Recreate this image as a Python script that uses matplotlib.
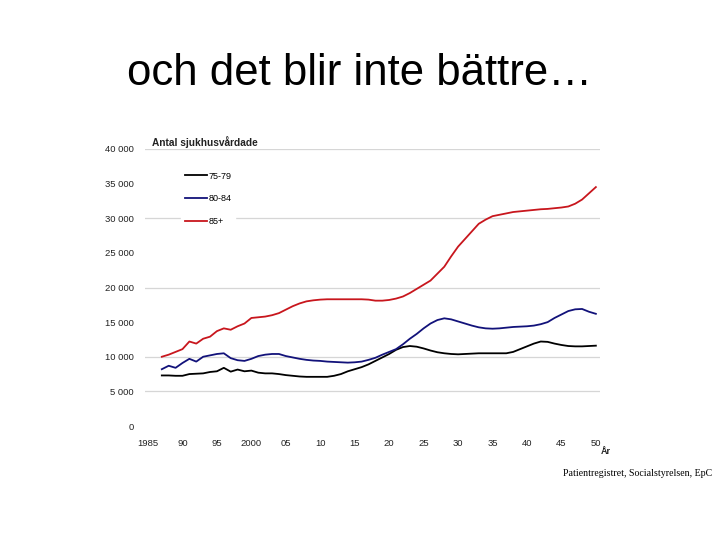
import numpy as np
import matplotlib.pyplot as plt

years = np.arange(1987, 2051)

age_75_79 = [7300, 7300, 7250, 7250, 7500, 7550, 7600, 7800, 7900, 8400,
             7850, 8150, 7900, 8000, 7700, 7600, 7600, 7500, 7350, 7250,
             7150, 7100, 7100, 7100, 7100, 7250, 7500, 7900, 8200, 8500,
             8900, 9400, 9900, 10400, 11000, 11400, 11550, 11450, 11200, 10900,
             10650, 10500, 10400, 10350, 10400, 10450, 10500, 10500, 10500, 10500,
             10500, 10700, 11100, 11500, 11900, 12200, 12150, 11900, 11700, 11550,
             11500, 11500, 11550, 11600]

age_80_84 = [8200, 8700, 8400, 9100, 9700, 9300, 10000, 10200, 10400, 10500,
             9800, 9500, 9400, 9700, 10100, 10300, 10400, 10400, 10100, 9900,
             9700, 9550, 9450, 9400, 9300, 9250, 9200, 9150, 9200, 9300,
             9550, 9850, 10300, 10700, 11100, 11800, 12600, 13300, 14100, 14800,
             15300, 15550, 15400, 15100, 14800, 14500, 14250, 14100, 14050, 14100,
             14200, 14300, 14350, 14400, 14500, 14700, 15000, 15600, 16100, 16600,
             16850, 16900, 16500, 16200]

age_85 = [10000, 10300, 10700, 11100, 12200, 11900, 12600, 12900, 13700, 14100,
          13900, 14400, 14800, 15600, 15700, 15800, 16000, 16300, 16800, 17300,
          17700, 18000, 18150, 18250, 18300, 18300, 18300, 18300, 18300, 18300,
          18250, 18100, 18100, 18200, 18400, 18700, 19200, 19800, 20400, 21000,
          22000, 23000, 24500, 25900, 27000, 28100, 29200, 29800, 30300, 30500,
          30700, 30900, 31000, 31100, 31200, 31300, 31350, 31450, 31550, 31700,
          32100, 32700, 33600, 34500]

xticks = list(range(1985, 2051, 5))
xlabels = ['1985', '90', '95', '2000', '05', '10', '15', '20', '25',
           '30', '35', '40', '45', '50']
yticks = list(range(0, 40001, 5000))
ylabels = ['0', '5 000', '10 000', '15 000', '20 000', '25 000',
           '30 000', '35 000', '40 000']
grid_vals = [5000, 10000, 20000, 30000, 40000]

plt.rcParams['font.family'] = ['Liberation Sans', 'DejaVu Sans']

fig = plt.figure(figsize=(7.2, 5.4), dpi=100)
ax = fig.add_axes([145 / 720, 1 - 426 / 540, 455 / 720, 277 / 540])

for g in grid_vals:
    ax.axhline(g, color='#d6d6d6', lw=0.9, zorder=0)

ax.plot(years, age_75_79, color='#000000', lw=1.3, label='75-79')
ax.plot(years, age_80_84, color='#12127a', lw=1.3, label='80-84')
ax.plot(years, age_85, color='#c8161d', lw=1.3, label='85+')

ax.set_xlim(1984.56, 2050.6)
ax.set_ylim(0, 40000)
ax.set_xticks(xticks)
ax.set_xticklabels(xlabels)
ax.set_yticks(yticks)
ax.set_yticklabels(ylabels)
ax.set_yticks(grid_vals, minor=True)
ax.tick_params(axis='both', which='major', length=0, labelsize=6.8,
               labelcolor='#222222')
ax.tick_params(axis='y', which='major', pad=8)
ax.tick_params(axis='x', which='major', pad=9)
ax.tick_params(axis='y', which='minor', length=2, color='#888888',
               width=0.6, pad=0)
for s in ax.spines.values():
    s.set_visible(False)

leg = ax.legend(loc='upper left', bbox_to_anchor=(181 / 720, 1 - 168 / 540),
                bbox_transform=fig.transFigure, frameon=True, fontsize=6.5,
                handlelength=2.5, handletextpad=0.15, labelspacing=1.5,
                borderpad=0.4, borderaxespad=0)
leg.get_frame().set_edgecolor('white')
leg.get_frame().set_facecolor('white')
leg.get_frame().set_alpha(1)

fig.text(152 / 720, 1 - 142 / 540, 'Antal sjukhusvårdade', fontsize=7.3,
         fontweight='bold', va='center', ha='left', color='#222222')
fig.text(606 / 720, 1 - 451 / 540, 'År', fontsize=6.5, fontweight='bold',
         va='center', ha='center', color='#222222')

fig.text(0.5, 1 - 85 / 540, 'och det blir inte bättre…', fontsize=31.5,
         ha='center', va='baseline', color='black')
fig.text(712 / 720, 1 - 473 / 540, 'Patientregistret, Socialstyrelsen, EpC',
         fontsize=7.1, family='Liberation Serif', ha='right', va='center')

fig.savefig('out.png', dpi=100)
